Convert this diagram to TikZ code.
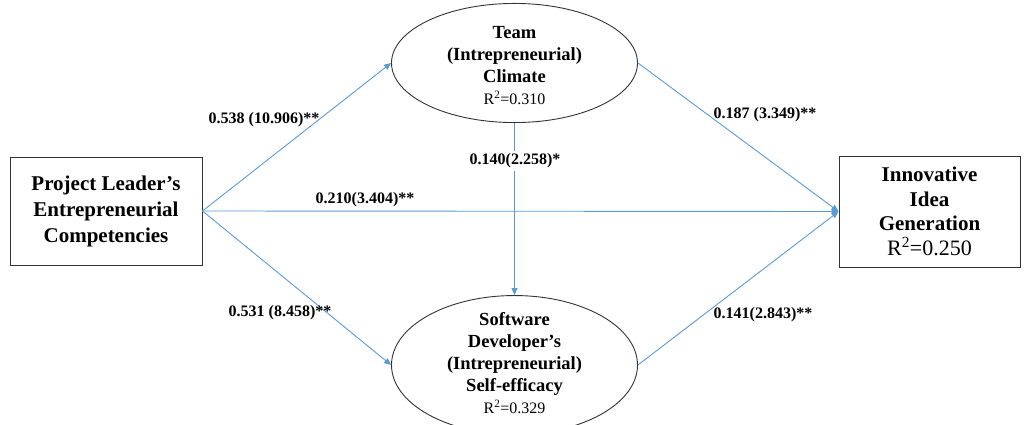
\documentclass[tikz,border=0pt]{standalone}
\usepackage{fontspec}
\setmainfont{Liberation Serif}
\usetikzlibrary{shapes.geometric,arrows.meta}
\definecolor{arrowblue}{RGB}{91,155,213}
\newcommand{\rline}[2]{{\fontsize{#1}{#2}\selectfont R\textsuperscript{2}=}}
\begin{document}
\begin{tikzpicture}[x=1pt,y=-1pt,
  boxnode/.style={draw=black!80,line width=0.9pt,inner sep=0pt,align=center,font=\fontsize{21}{26}\selectfont\bfseries},
  ellnode/.style={ellipse,draw=black!80,line width=0.9pt,inner sep=0pt,minimum width=246pt,minimum height=112pt,align=center,font=\fontsize{18.5}{22}\selectfont\bfseries},
  conn/.style={draw=arrowblue,line width=0.9pt,-{Triangle[width=6pt,length=7pt]}},
  lab/.style={font=\fontsize{16}{18}\selectfont\bfseries,inner sep=1pt}
]
\useasboundingbox (0,0) rectangle (1026,425);
\node[boxnode,minimum width=192pt,minimum height=108pt] (plec) at (106,211) {Project Leader's\\Entrepreneurial\\Competencies};
\node[boxnode,minimum width=181pt,minimum height=111pt,font=\fontsize{21}{24.5}\selectfont\bfseries] (iig) at (929.5,211.5) {Innovative\\Idea\\Generation\\{\fontsize{22}{24.5}\selectfont\mdseries R\textsuperscript{2}=0.250}};
\node[ellnode] (team) at (514.5,63) {\\[-4pt]Team\\(Intrepreneurial)\\Climate\\{\fontsize{16}{22}\selectfont\mdseries R\textsuperscript{2}=0.310}};
\node[ellnode,minimum height=120pt] (soft) at (514.5,365) {\\[-12pt]Software\\Developer's\\(Intrepreneurial)\\Self-efficacy\\{\fontsize{16}{22}\selectfont\mdseries R\textsuperscript{2}=0.329}};
\draw[conn] (plec.east) -- (team.west);
\draw[conn] (plec.east) -- (soft.west);
\draw[conn] (plec.east) -- (iig.west);
\draw[conn] (team.east) -- (iig.west);
\draw[conn] (soft.east) -- (iig.west);
\draw[conn] (team.south) -- (soft.north);
\node[lab] (l1) at (264,120) {0.538 (10.906)**};
\node[lab,fill=white,inner sep=3pt] (l2) at (515,161) {0.140(2.258)*};
\node[lab] (l3) at (365,200) {0.210(3.404)**};
\node[lab] (l4) at (280,313) {0.531 (8.458)**};
\node[lab] (l5) at (765,115) {0.187 (3.349)**};
\node[lab] (l6) at (763,315) {0.141(2.843)**};
\end{tikzpicture}
\end{document}
